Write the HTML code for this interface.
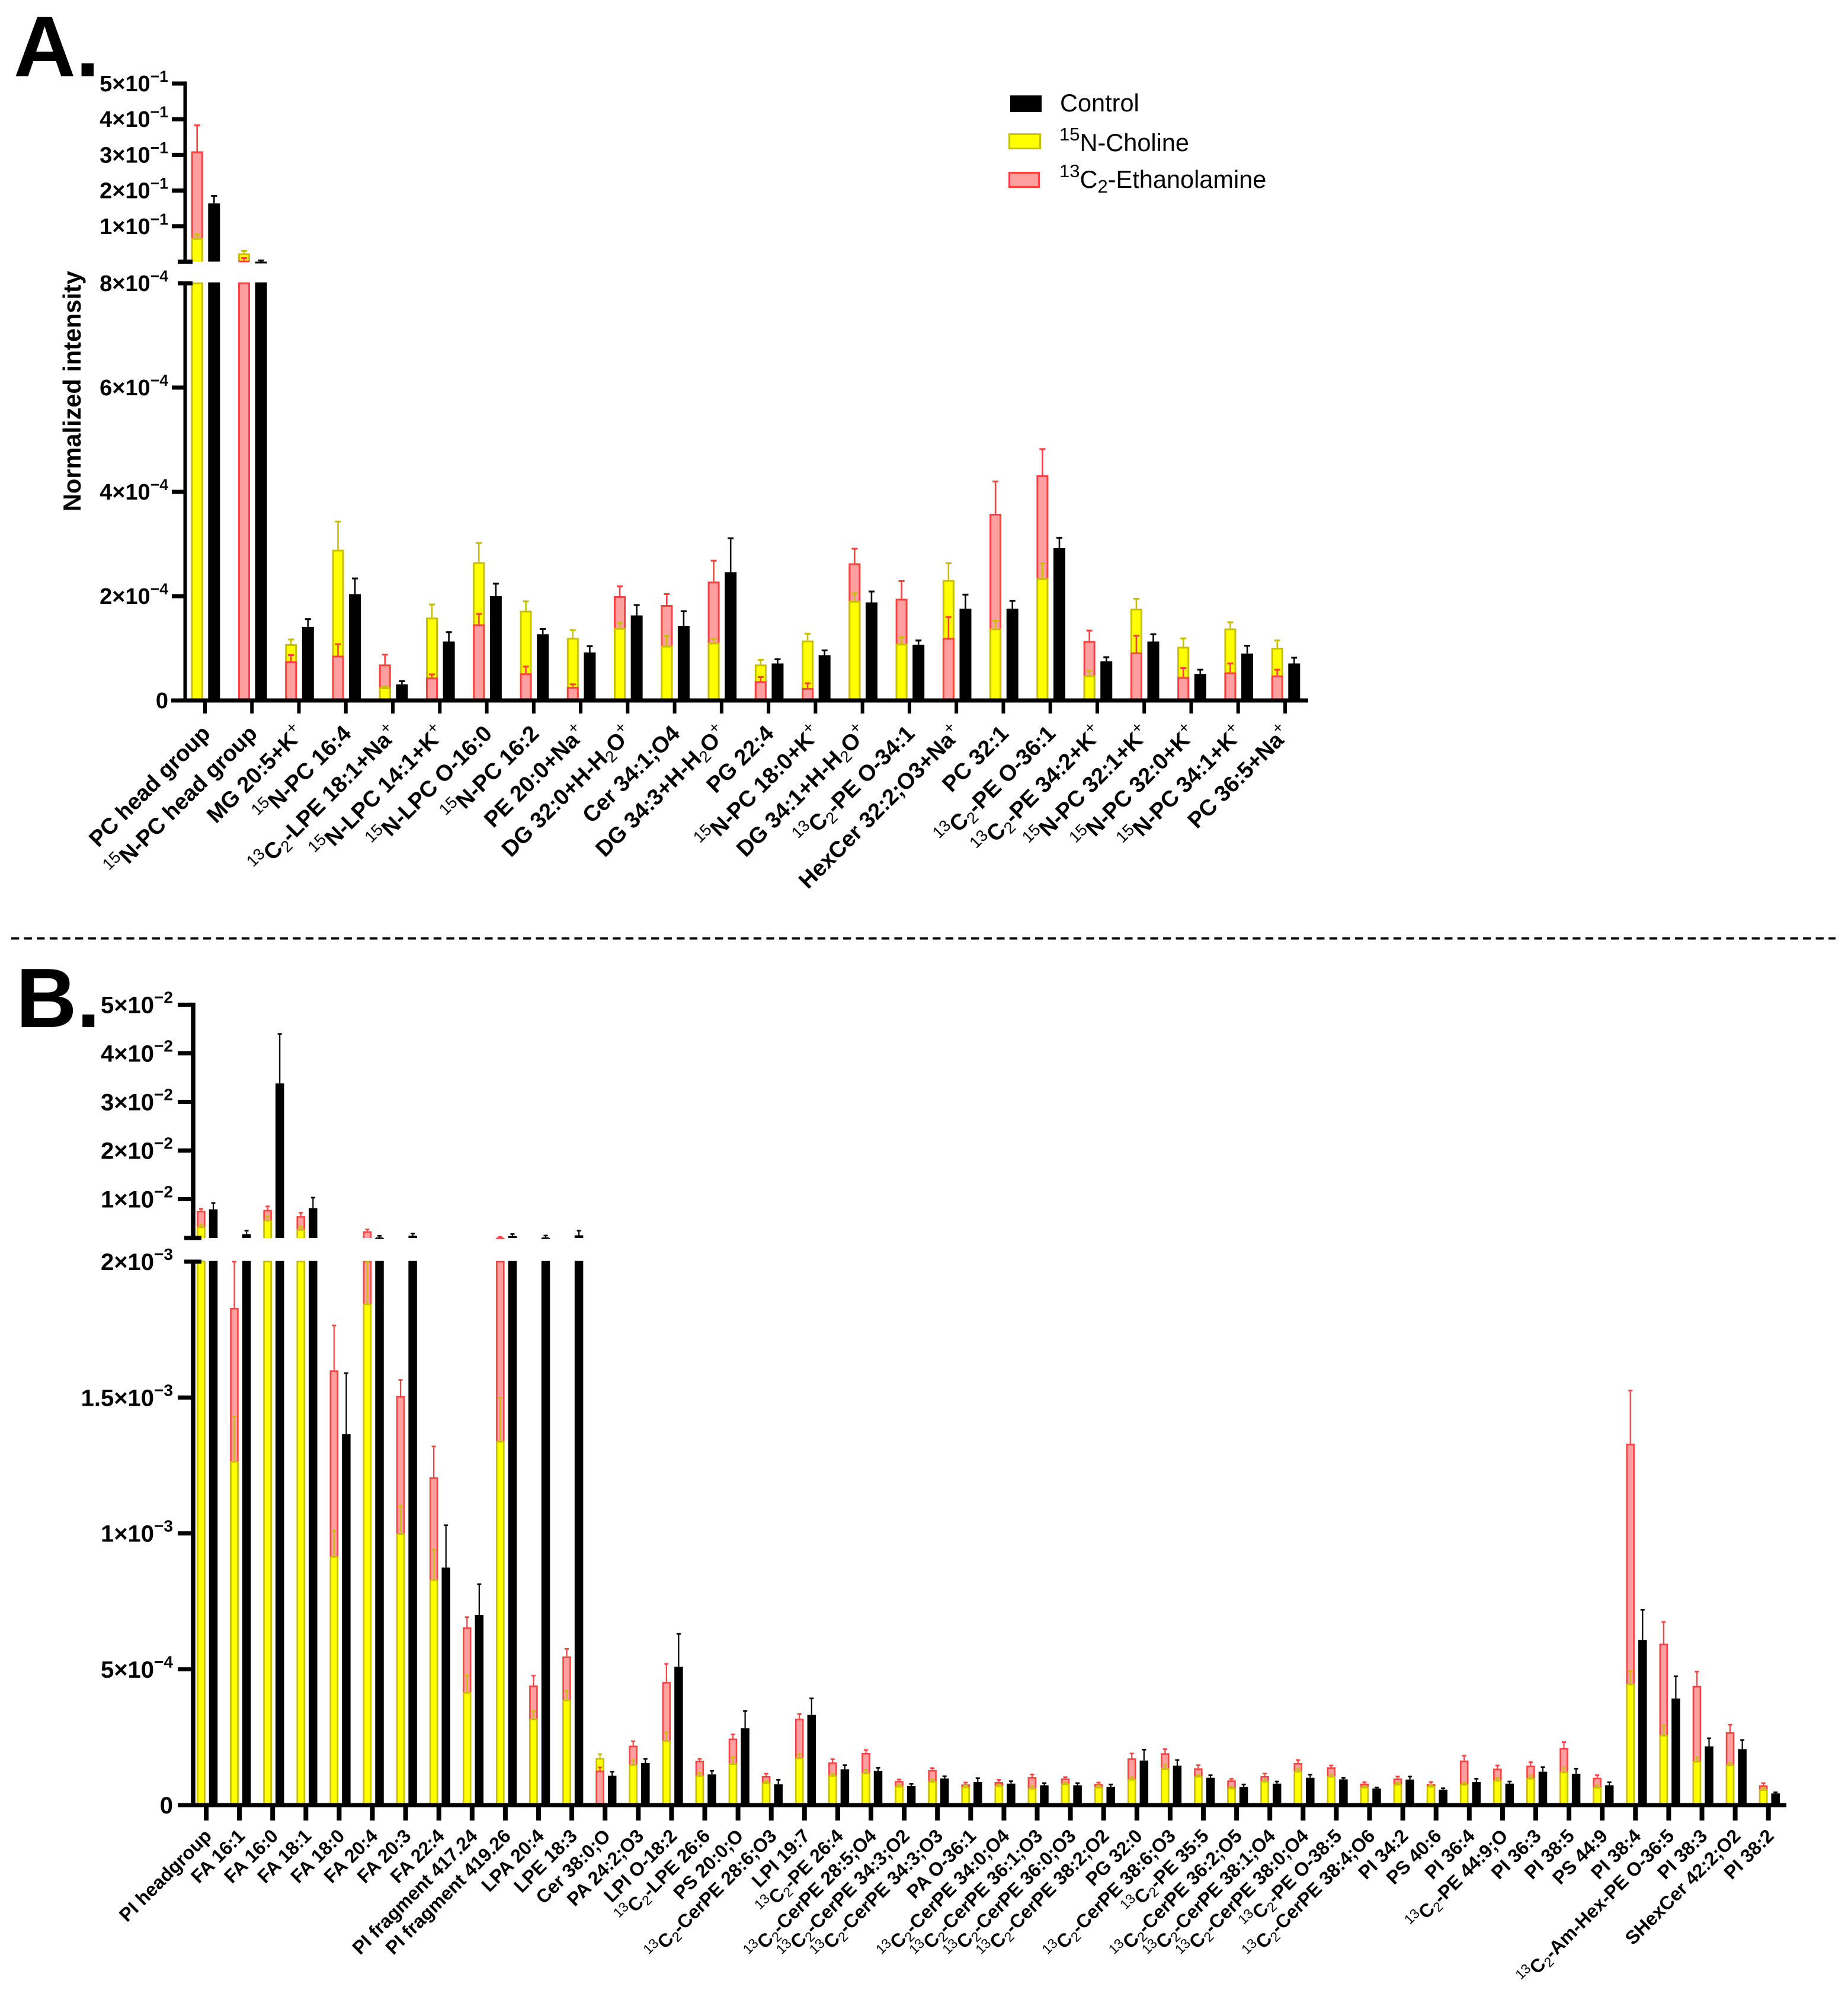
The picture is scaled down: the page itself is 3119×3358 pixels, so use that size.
<!DOCTYPE html>
<html>
<head>
<meta charset="utf-8">
<title>Normalized intensity of labelled lipids</title>
<style>
html,body{margin:0;padding:0;background:#fff}
svg{display:block;font-family:"Liberation Sans",Arial,sans-serif}
</style>
</head>
<body>
<svg id="chart" xmlns="http://www.w3.org/2000/svg" width="3119" height="3358" viewBox="0 0 3119 3358">
<rect width="3119" height="3358" fill="#fff"/>
<text x="23" y="128.5" font-size="145" font-weight="700">A.</text>
<text x="27" y="1733" font-size="142" font-weight="700">B.</text>
<line x1="19" y1="1583.5" x2="3098" y2="1583.5" stroke="#000" stroke-width="4" stroke-dasharray="13.3 8.3"/>
<text transform="translate(136,660) rotate(-90)" text-anchor="middle" font-size="41.5" font-weight="700">Normalized intensity</text>
<g>
<g>
<rect x="1705" y="161" width="53" height="28" fill="#000"/>
<text x="1789" y="188" font-size="41.5">Control</text>
</g>
<g>
<rect x="1703.5" y="226.5" width="52" height="24" fill="#ffff00" stroke="#c8c000" stroke-width="3"/>
<text x="1788" y="255" font-size="41.5"><tspan font-size="31" dy="-18">15</tspan><tspan dy="18">N-Choline</tspan></text>
</g>
<g>
<rect x="1703.5" y="291.5" width="50" height="24" fill="#ff9f9f" stroke="#ff4040" stroke-width="3"/>
<text x="1788" y="317" font-size="41.5"><tspan font-size="31" dy="-18">13</tspan><tspan dy="18">C</tspan><tspan font-size="31" dy="8">2</tspan><tspan dy="-8">-Ethanolamine</tspan></text>
</g>
</g>
<g id="panel-a"></g>
<g id="panel-b"></g>
</svg>
<script>
// All intensities are in units of 1e-4. "Err" arrays hold the top of each error bar.
const categoriesA = ["PC head group","^15^N-PC head group","MG 20:5+K^+^","^15^N-PC 16:4","^13^C_2_-LPE 18:1+Na^+^","^15^N-LPC 14:1+K^+^","^15^N-LPC O-16:0","^15^N-PC 16:2","PE 20:0+Na^+^","DG 32:0+H-H_2_O^+^","Cer 34:1;O4","DG 34:3+H-H_2_O^+^","PG 22:4","^15^N-PC 18:0+K^+^","DG 34:1+H-H_2_O^+^","^13^C_2_-PE O-34:1","HexCer 32:2;O3+Na^+^","PC 32:1","^13^C_2_-PE O-36:1","^13^C_2_-PE 34:2+K^+^","^15^N-PC 32:1+K^+^","^15^N-PC 32:0+K^+^","^15^N-PC 34:1+K^+^","PC 36:5+Na^+^"];
const cholineA = [670,240,1.08,2.89,0.25,1.59,2.65,1.72,1.20,1.39,1.05,1.11,0.69,1.15,1.91,1.09,2.31,1.38,2.34,0.48,1.76,1.03,1.38,1.01];
const cholineErrA = [770,310,1.17,3.43,0.27,1.84,3.02,1.90,1.35,1.49,1.24,1.18,0.78,1.28,2.06,1.21,2.63,1.53,2.63,0.57,1.95,1.19,1.50,1.15];
const ethanolamineA = [3100,40,0.75,0.86,0.69,0.44,1.46,0.52,0.26,2.00,1.83,2.28,0.37,0.24,2.63,1.95,1.20,3.58,4.32,1.14,0.92,0.45,0.54,0.48];
const ethanolamineErrA = [3830,110,0.87,1.08,0.88,0.50,1.66,0.65,0.31,2.19,2.04,2.68,0.45,0.33,2.91,2.29,1.60,4.20,4.82,1.34,1.24,0.62,0.71,0.59];
const controlA = [1640,9,1.41,2.04,0.31,1.13,2.00,1.27,0.92,1.63,1.43,2.46,0.71,0.87,1.88,1.07,1.76,1.76,2.92,0.75,1.13,0.51,0.90,0.71];
const controlErrA = [1850,40,1.56,2.34,0.37,1.31,2.24,1.37,1.04,1.83,1.71,3.11,0.79,0.96,2.09,1.15,2.03,1.91,3.12,0.83,1.27,0.59,1.05,0.82];
const tickValuesA = [1000,2000,3000,4000,5000,8,6,4,2,0];
const tickLabelsA = ["1×10^−1^","2×10^−1^","3×10^−1^","4×10^−1^","5×10^−1^","8×10^−4^","6×10^−4^","4×10^−4^","2×10^−4^","0"];

const categoriesB = ["PI headgroup","FA 16:1","FA 16:0","FA 18:1","FA 18:0","FA 20:4","FA 20:3","FA 22:4","PI fragment 417.24","PI fragment 419.26","LPA 20:4","LPE 18:3","Cer 38:0;O","PA 24:2;O3","LPI O-18:2","^13^C_2_-LPE 26:6","PS 20:0;O","^13^C_2_-CerPE 28:6;O3","LPI 19:7","^13^C_2_-PE 26:4","^13^C_2_-CerPE 28:5;O4","^13^C_2_-CerPE 34:3;O2","^13^C_2_-CerPE 34:3;O3","PA O-36:1","^13^C_2_-CerPE 34:0;O4","^13^C_2_-CerPE 36:1;O3","^13^C_2_-CerPE 36:0;O3","^13^C_2_-CerPE 38:2;O2","PG 32:0","^13^C_2_-CerPE 38:6;O3","^13^C_2_-PE 35:5","^13^C_2_-CerPE 36:2;O5","^13^C_2_-CerPE 38:1;O4","^13^C_2_-CerPE 38:0;O4","^13^C_2_-PE O-38:5","^13^C_2_-CerPE 38:4;O6","PI 34:2","PS 40:6","PI 36:4","^13^C_2_-PE 44:9;O","PI 36:3","PI 38:5","PS 44:9","PI 38:4","^13^C_2_-Am-Hex-PE O-36:5","PI 38:3","SHexCer 42:2;O2","PI 38:2"];
const cholineB = [43.5,12.66,57,38,9.16,18.46,10.0,8.3,4.16,13.4,3.18,3.88,1.73,1.50,2.38,1.10,1.54,0.83,1.75,1.10,1.19,0.70,0.88,0.68,0.72,0.63,0.79,0.67,0.96,1.35,1.07,0.64,0.89,1.26,1.07,0.67,0.78,0.70,0.78,0.92,1.00,1.23,0.66,4.47,2.58,1.62,1.49,0.58];
const cholineErrB = [48,14.3,65,43.5,10.1,20,11.0,9.4,4.77,15,3.46,4.2,1.875,1.66,2.68,1.19,1.76,0.88,1.88,1.155,1.30,0.75,0.94,0.72,0.76,0.70,0.83,0.72,1.03,1.48,1.10,0.67,0.95,1.34,1.13,0.70,0.83,0.74,0.83,1.00,1.08,1.37,0.73,4.94,2.94,1.75,1.56,0.645];
const ethanolamineB = [76,18.3,77.7,65,16.0,33.7,15.05,12.06,6.54,21,4.4,5.47,1.27,2.19,4.53,1.635,2.45,1.07,3.18,1.57,1.92,0.89,1.29,0.76,0.85,1.03,0.98,0.78,1.72,1.91,1.35,0.91,1.07,1.55,1.39,0.79,0.98,0.78,1.64,1.34,1.45,2.10,1.01,13.3,5.94,4.39,2.68,0.73];
const ethanolamineErrB = [80,20,85,72,17.65,37.5,15.65,13.2,6.92,22,4.77,5.75,1.39,2.35,5.2,1.70,2.60,1.155,3.35,1.69,2.03,0.94,1.36,0.83,0.93,1.13,1.03,0.83,1.90,2.06,1.47,0.97,1.16,1.66,1.46,0.84,1.05,0.85,1.82,1.46,1.58,2.32,1.10,15.26,6.74,4.91,2.96,0.81];
const controlB = [79,28,338,81.5,13.65,21,24.5,8.74,7.0,24,21,25.5,1.08,1.55,5.09,1.13,2.83,0.77,3.32,1.32,1.26,0.70,0.98,0.85,0.79,0.73,0.73,0.67,1.64,1.45,1.01,0.67,0.79,1.01,0.95,0.61,0.94,0.57,0.85,0.79,1.23,1.15,0.73,6.08,3.92,2.16,2.06,0.43];
const controlErrB = [92,35,440,103,15.9,24.5,29,10.3,8.13,28,25,35,1.23,1.70,6.3,1.26,3.46,0.93,3.93,1.47,1.37,0.78,1.06,0.99,0.88,0.81,0.81,0.76,2.04,1.66,1.10,0.76,0.87,1.12,1.00,0.65,1.05,0.62,0.97,0.87,1.40,1.34,0.84,7.19,4.74,2.46,2.39,0.47];
const tickValuesB = [100,200,300,400,500,20,15,10,5,0];
const tickLabelsB = ["1×10^−2^","2×10^−2^","3×10^−2^","4×10^−2^","5×10^−2^","2×10^−3^","1.5×10^−3^","1×10^−3^","5×10^−4^","0"];

const NS = "http://www.w3.org/2000/svg";
const YELLOW = "#ffff00", YELLOW_EDGE = "#c8c000", PINK = "#ff9f9f", PINK_EDGE = "#ff4040";

function mk(parent, tag, attrs) {
  const el = document.createElementNS(NS, tag);
  for (const k in attrs) el.setAttribute(k, attrs[k]);
  parent.appendChild(el);
  return el;
}

// Writes a label with ^sup^ and _sub_ markers as real text with tspans.
function richText(el, str, size, lightScripts, scriptScale) {
  const parts = str.split(/(\^[^^]*\^|_[^_]*_)/).filter(s => s.length);
  let offset = 0;
  parts.forEach(p => {
    const t = document.createElementNS(NS, "tspan");
    let target = 0, txt = p;
    if (p[0] === "^") { target = -0.42 * size; txt = p.slice(1, -1); t.setAttribute("font-size", size * scriptScale); }
    else if (p[0] === "_") { target = 0.2 * size; txt = p.slice(1, -1); t.setAttribute("font-size", size * scriptScale); }
    if (target !== 0 && lightScripts) t.setAttribute("font-weight", "400");
    t.setAttribute("dy", target - offset);
    offset = target;
    t.textContent = txt;
    el.appendChild(t);
  });
}

function drawPanel(cfg) {
  const root = document.getElementById(cfg.id);
  const brk = cfg.breakValue;
  const yLow = v => cfg.zeroY - v * cfg.lowScale;
  const yHigh = v => cfg.gapBottomY - (v - brk) * cfg.highScale;
  const y = v => v <= brk ? yLow(v) : yHigh(v);
  const xTick = i => cfg.firstTickX + i * cfg.tickStep;

  function bar(parent, cx, w, sw, v, fill, edge, name) {
    const l = cx - w / 2 + sw / 2, r = cx + w / 2 - sw / 2;
    const seg = (top, bottom) => {
      const el = mk(parent, "path", {d: `M${l} ${bottom}V${top}H${r}V${bottom}`, fill: fill, stroke: edge, "stroke-width": sw});
      
      
    };
    if (v > brk) {
      seg(yLow(brk), cfg.zeroY - 3);
      seg(yHigh(v) + sw / 2, cfg.gapBottomY);
    } else {
      seg(yLow(v) + sw / 2, cfg.zeroY - 3);
    }
  }

  function err(parent, cx, v, e, color, name) {
    const g = mk(parent, "g", {stroke: color, fill: "none", "stroke-width": cfg.errWidth});
    
    
    if (v <= brk && e > brk) {
      mk(g, "line", {x1: cx, x2: cx, y1: yLow(v), y2: yLow(brk)});
      mk(g, "line", {x1: cx, x2: cx, y1: cfg.gapBottomY, y2: yHigh(e)});
    } else {
      mk(g, "line", {x1: cx, x2: cx, y1: y(v), y2: y(e)});
    }
    mk(g, "line", {x1: cx - cfg.capWidth / 2, x2: cx + cfg.capWidth / 2, y1: y(e), y2: y(e), "stroke-width": cfg.errWidth + 0.5});
  }

  cfg.categories.forEach((cat, i) => {
    const g = mk(root, "g", {});
    
    
    const cx = xTick(i) + cfg.centerShift;
    const xOverlay = cx - cfg.barOffset, xControl = cx + cfg.barOffset;
    const series = [
      {v: cfg.choline[i], e: cfg.cholineErr[i], fill: YELLOW, edge: YELLOW_EDGE, name: "choline"},
      {v: cfg.ethanolamine[i], e: cfg.ethanolamineErr[i], fill: PINK, edge: PINK_EDGE, name: "ethanolamine"}
    ].sort((a, b) => b.v - a.v);
    series.forEach(s => {
      bar(g, xOverlay, cfg.barWidth, cfg.edgeWidth, s.v, s.fill, s.edge, 'bar-' + s.name);
      err(g, xOverlay, s.v, s.e, s.edge, 'error-bar-' + s.name);
    });
    bar(g, xControl, cfg.barWidth, cfg.edgeWidth, cfg.control[i], "#000", "#000", 'bar-control');
    err(g, xControl, cfg.control[i], cfg.controlErr[i], "#000", 'error-bar-control');
  });

  // y axis, two segments
  const axis = mk(root, "g", {fill: "#000"});
  
  
  const ax = cfg.axisX, aw = cfg.axisWidth;
  mk(axis, "rect", {x: ax - aw / 2, y: yHigh(cfg.topValue) - 3.5, width: aw, height: cfg.gapBottomY - yHigh(cfg.topValue) + 7});
  mk(axis, "rect", {x: ax - aw / 2, y: yLow(brk) - 3.5, width: aw, height: cfg.zeroY - yLow(brk) + 3.5});
  // break marks
  [cfg.gapBottomY, yLow(brk)].forEach(by => {
    mk(axis, "rect", {x: cfg.breakX1, y: by - 3.5, width: cfg.breakX2 - cfg.breakX1, height: 7});
  });

  cfg.tickValues.forEach((tv, i) => {
    const ty = y(tv);
    if (tv !== 0 && tv !== brk) {
      const t = mk(axis, "rect", {x: cfg.tickX1, y: ty - 3.5, width: ax - cfg.tickX1, height: 7});
      
      
    }
    const lab = mk(root, "text", {x: cfg.labelX, y: ty + cfg.labelDy, "text-anchor": "end", "font-size": cfg.tickFont, "font-weight": 700});
    
    
    richText(lab, cfg.tickLabels[i], cfg.tickFont, false, 0.7);
  });

  // x axis
  const xa = mk(root, "rect", {x: cfg.xAxisStart, y: cfg.zeroY - 3.5, width: cfg.xAxisEnd - cfg.xAxisStart, height: 7, fill: "#000"});
  
  

  cfg.categories.forEach((cat, i) => {
    const tk = mk(root, "rect", {x: xTick(i) - cfg.xTickWidth / 2, y: cfg.zeroY, width: cfg.xTickWidth, height: cfg.xTickLength, fill: "#000"});
    
    
    const px = xTick(i) + cfg.catDx, py = cfg.catY;
    const t = mk(root, "text", {transform: `translate(${px},${py}) rotate(-45)`, "text-anchor": "end", "font-size": cfg.catFont, "font-weight": 700});
    
    
    richText(t, cat, cfg.catFont, true, 0.72);
  });
}

drawPanel({
  id: "panel-a", categories: categoriesA, choline: cholineA, cholineErr: cholineErrA,
  ethanolamine: ethanolamineA, ethanolamineErr: ethanolamineErrA, control: controlA, controlErr: controlErrA,
  tickValues: tickValuesA, tickLabels: tickLabelsA,
  breakValue: 8, topValue: 5000, zeroY: 1182, lowScale: 88, gapBottomY: 441.5, highScale: 0.0602,
  firstTickX: 346, tickStep: 79.26, centerShift: 1, barOffset: 14.3, barWidth: 20, edgeWidth: 3, errWidth: 2.6, capWidth: 10,
  axisX: 312.5, axisWidth: 6, tickX1: 290, breakX1: 300, breakX2: 325, labelX: 284, labelDy: 13, tickFont: 38,
  xAxisStart: 289, xAxisEnd: 2208, xTickWidth: 6, xTickLength: 22, catDx: 11, catY: 1240, catFont: 38
});
drawPanel({
  id: "panel-b", categories: categoriesB, choline: cholineB, cholineErr: cholineErrB,
  ethanolamine: ethanolamineB, ethanolamineErr: ethanolamineErrB, control: controlB, controlErr: controlErrB,
  tickValues: tickValuesB, tickLabels: tickLabelsB,
  breakValue: 20, topValue: 500, zeroY: 3046, lowScale: 45.85, gapBottomY: 2089, highScale: 0.82,
  firstTickX: 348, tickStep: 56.1, centerShift: 1.7, barOffset: 10.3, barWidth: 14.5, edgeWidth: 2.6, errWidth: 2.2, capWidth: 7,
  axisX: 326, axisWidth: 7.5, tickX1: 300, breakX1: 311, breakX2: 340, labelX: 292, labelDy: 14, tickFont: 40,
  xAxisStart: 300, xAxisEnd: 3015, xTickWidth: 8, xTickLength: 26, catDx: 11, catY: 3100, catFont: 32
});
</script>
</body>
</html>
